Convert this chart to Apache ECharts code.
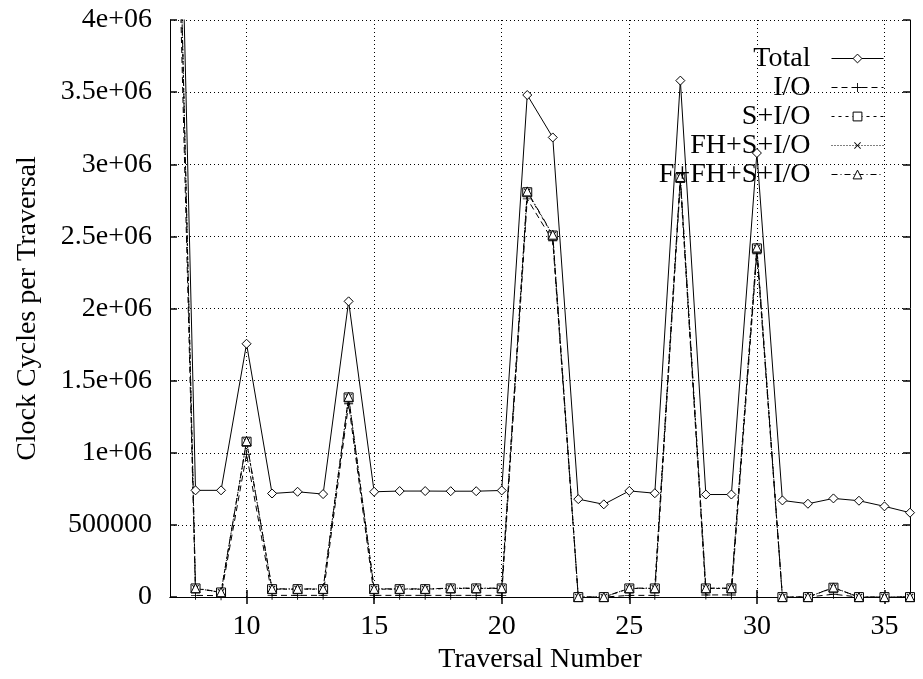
<!DOCTYPE html>
<html>
<head>
<meta charset="utf-8">
<script src="https://cdn.jsdelivr.net/npm/echarts@6/dist/echarts.min.js"></script>
<style>
html,body{margin:0;padding:0;background:#fff;}
#chart{width:923px;height:679px;}
</style>
</head>
<body>
<div id="chart"></div>
<script>
const traversal = [7,8,9,10,11,12,13,14,15,16,17,18,19,20,21,22,23,24,25,26,27,28,29,30,31,32,33,34,35,36];
const total = [8100000,740000,740000,1756000,718000,730000,714000,2050000,730000,735000,735000,734000,734000,739000,3480000,3186000,679000,643000,736000,720000,3580000,711000,711000,3078000,670000,647000,684000,668000,629000,585000];
const io = [7000000,12000,10000,990000,12000,12000,12000,1340000,12000,12000,12000,12000,12000,12000,2760000,2470000,0,0,12000,12000,2875000,15000,15000,2380000,0,0,20000,0,0,0];
const sio = [7500000,60000,32000,1077000,55000,55000,55000,1384000,55000,55000,55000,60000,60000,60000,2806000,2506000,0,0,60000,60000,2906000,60000,60000,2417000,0,0,65000,0,0,0];
const fhsio = [7520000,61000,33000,1079000,56000,56000,56000,1386000,56000,56000,56000,61000,61000,61000,2809000,2509000,0,0,61000,61000,2909000,61000,61000,2420000,0,0,66000,0,0,0];
const ffhsio = [7550000,62000,34000,1081000,57000,57000,57000,1388000,57000,57000,57000,62000,62000,62000,2812000,2512000,0,0,62000,62000,2912000,62000,62000,2423000,0,0,67000,0,0,0];
const seriesNames = ['Total','I/O','S+I/O','FH+S+I/O','F+FH+S+I/O'];
const xTicks = [10,15,20,25,30,35];
const yTickValues = [0,500000,1000000,1500000,2000000,2500000,3000000,3500000,4000000];
const yTickLabels = ['0','500000','1e+06','1.5e+06','2e+06','2.5e+06','3e+06','3.5e+06','4e+06'];

const FONT = 'Liberation Serif';
const plusPath = 'path://M4.5,0H5.5V4.5H10V5.5H5.5V10H4.5V5.5H0V4.5H4.5Z';

function pairs(ys){ return traversal.map((x,i)=>[x, ys[i]]); }

const chart = echarts.init(document.getElementById('chart'), null, {renderer:'canvas'});

const baseX = {
  type:'value', min:7, max:36,
  axisLine:{show:true, lineStyle:{color:'#000', width:1}},
  axisTick:{show:true, inside:true, length:7, customValues:xTicks, lineStyle:{color:'#000', width:1.5}},
  splitLine:{show:false},
};
const baseY = {
  type:'value', min:0, max:4000000, interval:500000,
  axisLine:{show:true, lineStyle:{color:'#000', width:1}},
  axisTick:{show:true, inside:true, length:7, lineStyle:{color:'#000', width:1.5}},
  splitLine:{show:false},
};

function mkSeries(name, data, symbol, lineType, itemStyle, rotate){
  return {
    name, type:'line', data:pairs(data), xAxisIndex:0, yAxisIndex:0,
    symbol, symbolSize:9, symbolRotate:rotate||0, showAllSymbol:true,
    lineStyle:{color:'#000', width:1, type:lineType},
    itemStyle,
    clip:true, animation:false,
    emphasis:{disabled:true}
  };
}

const option = {
  animation:false,
  backgroundColor:'#fff',
  grid:{left:170, right:13, top:20, bottom:76, containLabel:false},
  xAxis:[
    Object.assign({}, baseX, {
      position:'bottom',
      name:'Traversal Number', nameLocation:'middle', nameGap:44,
      nameTextStyle:{fontFamily:FONT, fontSize:28, color:'#000'},
      axisLabel:{show:true, customValues:xTicks, fontFamily:FONT, fontSize:28, color:'#000', margin:16},
      splitLine:{show:true, lineStyle:{color:'#000', width:1, type:[1,3]}}
    }),
    Object.assign({}, baseX, {position:'top', axisLabel:{show:false}})
  ],
  yAxis:[
    Object.assign({}, baseY, {
      position:'left',
      name:'Clock Cycles per Traversal', nameLocation:'middle', nameGap:128, nameRotate:90,
      nameTextStyle:{fontFamily:FONT, fontSize:28, color:'#000'},
      axisLabel:{show:true, fontFamily:FONT, fontSize:28, color:'#000', margin:18,
        formatter:function(v){ const i = yTickValues.indexOf(v); return i>=0 ? yTickLabels[i] : ''; }},
      splitLine:{show:true, lineStyle:{color:'#000', width:1, type:[1,3]}}
    }),
    Object.assign({}, baseY, {position:'right', axisLabel:{show:false}})
  ],
  legend:{
    show:true, orient:'vertical', align:'right',
    right:39, top:44, padding:0, itemGap:0,
    itemWidth:52, itemHeight:11,
    data:seriesNames,
    lineStyle:{width:1},
    itemStyle:{borderWidth:1},
    textStyle:{fontFamily:FONT, fontSize:28, color:'#000', lineHeight:29, padding:[0,16,0,0]},
    selectedMode:false
  },
  series:[
    mkSeries(seriesNames[0], total, 'diamond', 'solid', {color:'#fff', borderColor:'#000', borderWidth:1}),
    mkSeries(seriesNames[1], io, plusPath, [6,4], {color:'#000', borderWidth:0}),
    mkSeries(seriesNames[2], sio, 'rect', [3,4], {color:'#fff', borderColor:'#000', borderWidth:1}),
    mkSeries(seriesNames[3], fhsio, plusPath, [1,2], {color:'#000', borderWidth:0}, 45),
    mkSeries(seriesNames[4], ffhsio, 'triangle', [6,3,1,3], {color:'#fff', borderColor:'#000', borderWidth:1})
  ]
};
chart.setOption(option);
</script>
</body>
</html>
